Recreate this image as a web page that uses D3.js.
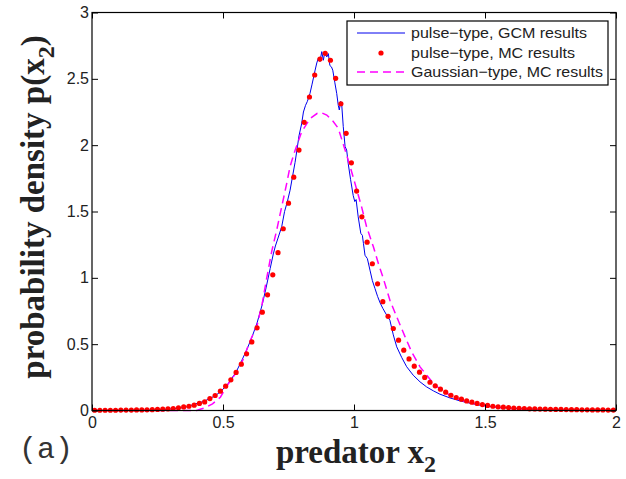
<!DOCTYPE html>
<html>
<head>
<meta charset="utf-8">
<script src="https://cdn.jsdelivr.net/npm/d3@7"></script>
<style>
  body { margin: 0; background: #fff; }
  svg { display: block; }
</style>
</head>
<body>
<svg id="chart" width="626" height="479"></svg>
<script>
// pulse-type, GCM results (blue line)
const gcmX = [0, 0.10, 0.20, 0.26, 0.30, 0.34, 0.36, 0.39, 0.425, 0.45, 0.47, 0.49, 0.52, 0.55, 0.57, 0.59,
  0.61, 0.63, 0.65, 0.665, 0.68, 0.692, 0.70, 0.71, 0.724, 0.735, 0.745, 0.756, 0.765, 0.775, 0.782, 0.79,
  0.80, 0.807, 0.815, 0.822, 0.832, 0.84, 0.851, 0.858, 0.864, 0.87, 0.877, 0.883, 0.889, 0.896, 0.902,
  0.908, 0.914, 0.919, 0.927, 0.934, 0.94, 0.944, 0.949, 0.953, 0.959, 0.966, 0.972, 0.978, 0.987, 0.997,
  1.003, 1.008, 1.016, 1.026, 1.032, 1.036, 1.042, 1.051, 1.061, 1.07, 1.08, 1.09, 1.10, 1.11, 1.12, 1.137,
  1.15, 1.163, 1.182, 1.201, 1.226, 1.252, 1.277, 1.303, 1.328, 1.366, 1.405, 1.443, 1.481, 1.519, 1.557,
  1.60, 1.70, 1.80, 1.90, 2.00];
const gcmY = [0, 0.000, 0.002, 0.006, 0.012, 0.020, 0.027, 0.047, 0.068, 0.090, 0.112, 0.140, 0.204, 0.290, 0.370, 0.455,
  0.550, 0.660, 0.800, 0.930, 1.070, 1.180, 1.240, 1.300, 1.385, 1.500, 1.570, 1.660, 1.760, 1.870, 1.960, 2.070,
  2.160, 2.250, 2.300, 2.330, 2.390, 2.460, 2.560, 2.620, 2.655, 2.630, 2.705, 2.640, 2.705, 2.665, 2.690,
  2.600, 2.590, 2.565, 2.470, 2.390, 2.300, 2.265, 2.330, 2.310, 2.140, 1.990, 1.963, 1.860, 1.740, 1.620,
  1.575, 1.590, 1.460, 1.335, 1.320, 1.260, 1.170, 1.145, 1.058, 0.980, 0.920, 0.860, 0.810, 0.770, 0.735, 0.680,
  0.570, 0.480, 0.400, 0.330, 0.266, 0.216, 0.178, 0.148, 0.123, 0.095, 0.072, 0.055, 0.040, 0.030, 0.023,
  0.017, 0.009, 0.005, 0.002, 0.001];

// pulse-type, MC results (red dots), bin centres
const mcX = [0.01, 0.03, 0.05, 0.07, 0.09, 0.11, 0.13, 0.15, 0.17, 0.19, 0.21, 0.23, 0.25, 0.27, 0.29,
  0.31, 0.33, 0.35, 0.37, 0.39, 0.41, 0.43, 0.45, 0.47, 0.49, 0.51, 0.53, 0.55, 0.57, 0.59,
  0.61, 0.63, 0.65, 0.67, 0.69, 0.71, 0.73, 0.75, 0.77, 0.79, 0.81, 0.83, 0.85, 0.87, 0.89,
  0.91, 0.93, 0.95, 0.97, 0.99, 1.01, 1.03, 1.05, 1.07, 1.09, 1.11, 1.13, 1.15, 1.17, 1.19,
  1.21, 1.23, 1.25, 1.27, 1.29, 1.31, 1.33, 1.35, 1.37, 1.39, 1.41, 1.43, 1.45, 1.47, 1.49,
  1.51, 1.53, 1.55, 1.57, 1.59, 1.61, 1.63, 1.65, 1.67, 1.69, 1.71, 1.73, 1.75, 1.77, 1.79,
  1.81, 1.83, 1.85, 1.87, 1.89, 1.91, 1.93, 1.95, 1.97, 1.99];
const mcY = [0.002, 0.002, 0.002, 0.002, 0.002, 0.003, 0.003, 0.003, 0.004, 0.004, 0.005, 0.006, 0.008, 0.010, 0.012,
  0.015, 0.020, 0.027, 0.032, 0.040, 0.053, 0.065, 0.090, 0.113, 0.146, 0.183, 0.231, 0.287, 0.349, 0.427,
  0.517, 0.623, 0.741, 0.872, 1.023, 1.190, 1.370, 1.563, 1.759, 1.963, 2.172, 2.363, 2.529, 2.649, 2.692,
  2.640, 2.504, 2.312, 2.089, 1.867, 1.654, 1.460, 1.269, 1.106, 0.955, 0.820, 0.710, 0.618, 0.530, 0.455,
  0.389, 0.334, 0.289, 0.249, 0.213, 0.186, 0.161, 0.138, 0.115, 0.098, 0.085, 0.072, 0.063, 0.053, 0.045,
  0.038, 0.032, 0.028, 0.025, 0.022, 0.019, 0.017, 0.015, 0.013, 0.012, 0.011, 0.010, 0.009, 0.008, 0.008,
  0.007, 0.006, 0.006, 0.005, 0.005, 0.004, 0.004, 0.004, 0.003, 0.003];

// Gaussian-type, MC results (magenta dashed)
const gaussX = [0, 0.40, 0.41, 0.43, 0.46, 0.49, 0.52, 0.53, 0.56, 0.58, 0.60, 0.63, 0.65, 0.667, 0.686, 0.705,
  0.724, 0.743, 0.756, 0.775, 0.80, 0.832, 0.86, 0.875, 0.896, 0.92, 0.94, 0.966, 0.985, 1.004, 1.029,
  1.048, 1.074, 1.093, 1.112, 1.137, 1.163, 1.195, 1.22, 1.252, 1.28, 1.303, 1.33, 1.366, 1.40, 1.44,
  1.50, 1.56, 1.62, 1.70, 1.80, 2.00];
const gaussY = [0, 0, 0.007, 0.020, 0.050, 0.100, 0.200, 0.230, 0.310, 0.400, 0.510, 0.640, 0.810, 1.000, 1.200, 1.360,
  1.535, 1.710, 1.840, 1.960, 2.100, 2.200, 2.240, 2.245, 2.227, 2.180, 2.127, 1.963, 1.840, 1.710, 1.535,
  1.385, 1.234, 1.108, 0.995, 0.831, 0.706, 0.555, 0.442, 0.329, 0.260, 0.204, 0.160, 0.115, 0.085, 0.060,
  0.035, 0.020, 0.012, 0.006, 0.003, 0.001];

const xTicks = [0, 0.5, 1, 1.5, 2];
const yTicks = [0, 0.5, 1, 1.5, 2, 2.5, 3];
const legendLabels = ["pulse\u2212type, GCM results", "pulse\u2212type, MC results", "Gaussian\u2212type, MC results"];

const plotL = 92, plotR = 616, plotT = 12.5, plotB = 410.5;
const tickLen = 6;
const tickFont = "'Liberation Sans', Arial, Helvetica, sans-serif";
const serifFont = "'Liberation Serif', 'Times New Roman', serif";

const svg = d3.select('#chart');

const x = d3.scaleLinear().domain([0, 2]).range([plotL, plotR]);
const y = d3.scaleLinear().domain([0, 3]).range([plotB, plotT]);

const zip = (xs, ys) => xs.map((v, i) => [v, ys[i]]);

const line = d3.line()
  .x(d => x(d[0]))
  .y(d => y(d[1]));

// curves
svg.append('path')
  .datum(zip(gcmX, gcmY))
  .attr('d', line)
  .attr('fill', 'none')
  .attr('stroke', '#0000ee')
  .attr('stroke-width', 1);

svg.append('path')
  .datum(zip(gaussX, gaussY))
  .attr('d', line)
  .attr('fill', 'none')
  .attr('stroke', '#ff00ff')
  .attr('stroke-width', 1.5)
  .attr('stroke-dasharray', '8,5');

svg.selectAll('circle.mc')
  .data(zip(mcX, mcY)).enter().append('circle')
  .attr('class', 'mc')
  .attr('cx', d => x(d[0]))
  .attr('cy', d => y(d[1]))
  .attr('r', 2.6)
  .attr('fill', '#ff0000');

// axes, ticks inside like a matlab box
const axisStyle = (g) => {
  g.select('.domain').remove();
  g.selectAll('line').attr('stroke', '#000');
  g.selectAll('text')
    .attr('fill', '#222')
    .style('font-family', tickFont)
    .style('font-size', '16px');
};

svg.append('g')
  .attr('transform', `translate(0,${plotB})`)
  .call(d3.axisBottom(x).tickValues(xTicks).tickSizeInner(-tickLen).tickPadding(tickLen).tickFormat(d3.format('')))
  .call(axisStyle);

svg.append('g')
  .attr('transform', `translate(0,${plotT})`)
  .call(d3.axisTop(x).tickValues(xTicks).tickSizeInner(-tickLen).tickFormat(''))
  .call(axisStyle);

svg.append('g')
  .attr('transform', `translate(${plotL},0)`)
  .call(d3.axisLeft(y).tickValues(yTicks).tickSizeInner(-tickLen).tickPadding(3).tickFormat(d3.format('')))
  .call(axisStyle);

svg.append('g')
  .attr('transform', `translate(${plotR},0)`)
  .call(d3.axisRight(y).tickValues(yTicks).tickSizeInner(-tickLen).tickFormat(''))
  .call(axisStyle);

svg.append('rect')
  .attr('x', plotL).attr('y', plotT)
  .attr('width', plotR - plotL).attr('height', plotB - plotT)
  .attr('fill', 'none')
  .attr('stroke', '#000')
  .attr('stroke-width', 1.2);

// legend
const lg = svg.append('g').attr('transform', 'translate(347,21)');
lg.append('rect')
  .attr('width', 261).attr('height', 64)
  .attr('fill', '#fff')
  .attr('stroke', '#000')
  .attr('stroke-width', 1.2);

const rowY = [12, 32, 51];
const labelWidths = [176, 164, 192];
lg.append('line')
  .attr('x1', 10).attr('x2', 58).attr('y1', rowY[0]).attr('y2', rowY[0])
  .attr('stroke', '#0000ee').attr('stroke-width', 1);
lg.append('circle')
  .attr('cx', 34).attr('cy', rowY[1]).attr('r', 2.6).attr('fill', '#ff0000');
lg.append('line')
  .attr('x1', 10).attr('x2', 58).attr('y1', rowY[2]).attr('y2', rowY[2])
  .attr('stroke', '#ff00ff').attr('stroke-width', 1.5).attr('stroke-dasharray', '8,5');

lg.selectAll('text.lab')
  .data(legendLabels).enter().append('text')
  .attr('class', 'lab')
  .attr('x', 64)
  .attr('y', (d, i) => rowY[i] + 5)
  .attr('textLength', (d, i) => labelWidths[i])
  .attr('lengthAdjust', 'spacingAndGlyphs')
  .attr('fill', '#222')
  .style('font-family', tickFont)
  .style('font-size', '15px')
  .text(d => d);

// axis titles
const xtitle = svg.append('text')
  .attr('x', 356).attr('y', 463)
  .attr('text-anchor', 'middle')
  .attr('fill', '#222')
  .style('font-family', serifFont)
  .style('font-weight', 'bold')
  .style('font-size', '33px');
xtitle.append('tspan').text('predator x');
xtitle.append('tspan').attr('dy', 9).style('font-size', '24px').text('2');

const ytitle = svg.append('text')
  .attr('transform', 'translate(44,207) rotate(-90)')
  .attr('text-anchor', 'middle')
  .attr('fill', '#222')
  .style('font-family', serifFont)
  .style('font-weight', 'bold')
  .style('font-size', '33px');
ytitle.append('tspan').text('probability density p(x');
ytitle.append('tspan').attr('dy', 10).style('font-size', '24px').text('2');
ytitle.append('tspan').attr('dy', -10).text(')');

svg.append('text')
  .attr('x', 19).attr('y', 458)
  .attr('fill', '#333')
  .style('font-family', "'Liberation Mono', 'Courier New', monospace")
  .style('font-size', '30px')
  .text('(a)');
</script>
</body>
</html>
